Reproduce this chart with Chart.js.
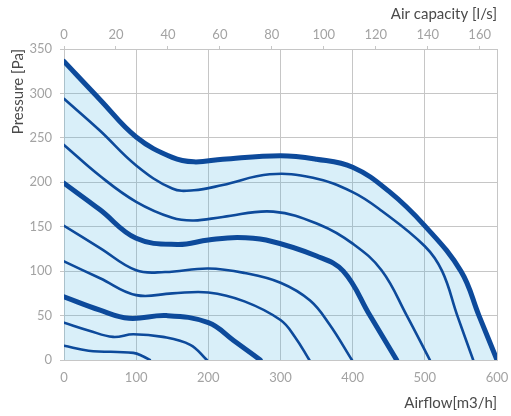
<!DOCTYPE html>
<html>
<head>
<meta charset="utf-8">
<script src="https://cdn.jsdelivr.net/npm/chart.js@4"></script>
<style>
  html, body { margin: 0; padding: 0; background: #fff; }
  #wrap { width: 511px; height: 416px; }
</style>
</head>
<body>
<div id="wrap"><canvas id="fan_chart"></canvas></div>
<script>
// fan curves: [airflow m3/h, pressure Pa]
const curve_max = [[0,336],[50,293],[100,251],[150,228],[180,223],[220,226],[300,230],[350,226],[400,217],[450,190],[500,151],[550,100],[575,50],[600,0]];
const curve_2 = [[0,294],[50,258],[100,219],[150,193],[180,191],[220,197],[285,209],[345,205],[400,189],[440,168],[500,128],[524,100],[545,50],[567,0]];
const curve_3 = [[0,242],[50,207],[100,178],[150,160],[180,157],[220,161],[290,167],[355,152],[400,131],[440,101],[475,50],[507,0]];
const curve_mid = [[0,199],[50,169],[100,137],[157,130],[200,135],[240,138],[280,135],[350,117],[387,100],[424,50],[461,0]];
const curve_5 = [[0,151],[50,126],[100,101],[140,99],[200,103],[250,98],[300,87],[341,67],[368,40],[399,0]];
const curve_6 = [[0,111],[50,92],[100,73],[150,75],[200,76],[250,66],[300,45],[320,26],[340,0]];
const curve_low = [[0,71],[50,56],[90,47],[142,50],[200,42],[235,22],[272,0]];
const curve_8 = [[0,42],[35,33],[68,26],[96,29],[137,26],[175,17],[198,0]];
const curve_9 = [[0,16],[34,10.5],[96,8],[110,4],[119,0]];

const thick_curves = [curve_max, curve_mid, curve_low];
const all_curves = [curve_max, curve_2, curve_3, curve_mid, curve_5, curve_6, curve_low, curve_8, curve_9];

const line_colour = "#0d4a9b";
const fill_colour = "rgba(65,175,225,0.2)";
const tick_colour = "#a3a3a3";
const grid_colour = "#c6c6c6";
const title_colour = "#4a4a4a";

const chart_datasets = all_curves.map((curve, i) => ({
  data: curve.map(p => ({ x: p[0], y: p[1] })),
  borderColor: line_colour,
  borderWidth: thick_curves.includes(curve) ? 5 : 2.6,
  backgroundColor: fill_colour,
  fill: i === 0 ? "origin" : false,
  pointRadius: 0,
  tension: 0.4,
  borderCapStyle: "round",
  borderJoinStyle: "round"
}));

const tick_font = { family: "Lato", size: 13 };
const title_font = { family: "Lato", size: 15 };

new Chart(document.getElementById("fan_chart").getContext("2d"), {
  type: "line",
  data: { datasets: chart_datasets },
  options: {
    responsive: true,
    maintainAspectRatio: false,
    animation: false,
    layout: { padding: { left: 0, right: 14, top: 0, bottom: 0 } },
    plugins: {
      legend: { display: false },
      tooltip: { enabled: false },
      filler: { drawTime: "beforeDatasetsDraw" }
    },
    scales: {
      x: {
        type: "linear",
        position: "bottom",
        min: 0,
        max: 600,
        ticks: { stepSize: 100, color: tick_colour, font: tick_font, padding: 10, maxRotation: 0 },
        grid: { color: grid_colour, drawTicks: false },
        border: { color: grid_colour },
        title: { display: true, text: "Airflow[m3/h]", align: "end", color: title_colour, font: title_font, padding: { top: 4, bottom: 4 } },
        afterFit: s => { s.height = 56; s.paddingLeft = 0; s.paddingRight = 0; }
      },
      x2: {
        type: "linear",
        position: "top",
        min: 0,
        max: 600 / 3.6,
        ticks: { stepSize: 20, includeBounds: false, color: tick_colour, font: tick_font, padding: 3, maxRotation: 0 },
        grid: { drawOnChartArea: false, color: grid_colour, tickLength: 3 },
        border: { color: grid_colour },
        title: { display: true, text: "Air capacity [l/s]", align: "end", color: title_colour, font: title_font, padding: { top: 5, bottom: 0 } },
        afterFit: s => { s.height = 49; s.paddingLeft = 0; s.paddingRight = 0; }
      },
      y: {
        min: 0,
        max: 350,
        ticks: { stepSize: 50, color: tick_colour, font: tick_font, padding: 8 },
        grid: { color: grid_colour, tickLength: 4 },
        border: { color: grid_colour },
        title: { display: true, text: "Pressure [Pa]", align: "end", color: title_colour, font: title_font, padding: { top: 9, bottom: 0 } },
        afterFit: s => { s.width = 64; s.paddingTop = 0; s.paddingBottom = 0; }
      }
    }
  }
});
</script>
</body>
</html>
